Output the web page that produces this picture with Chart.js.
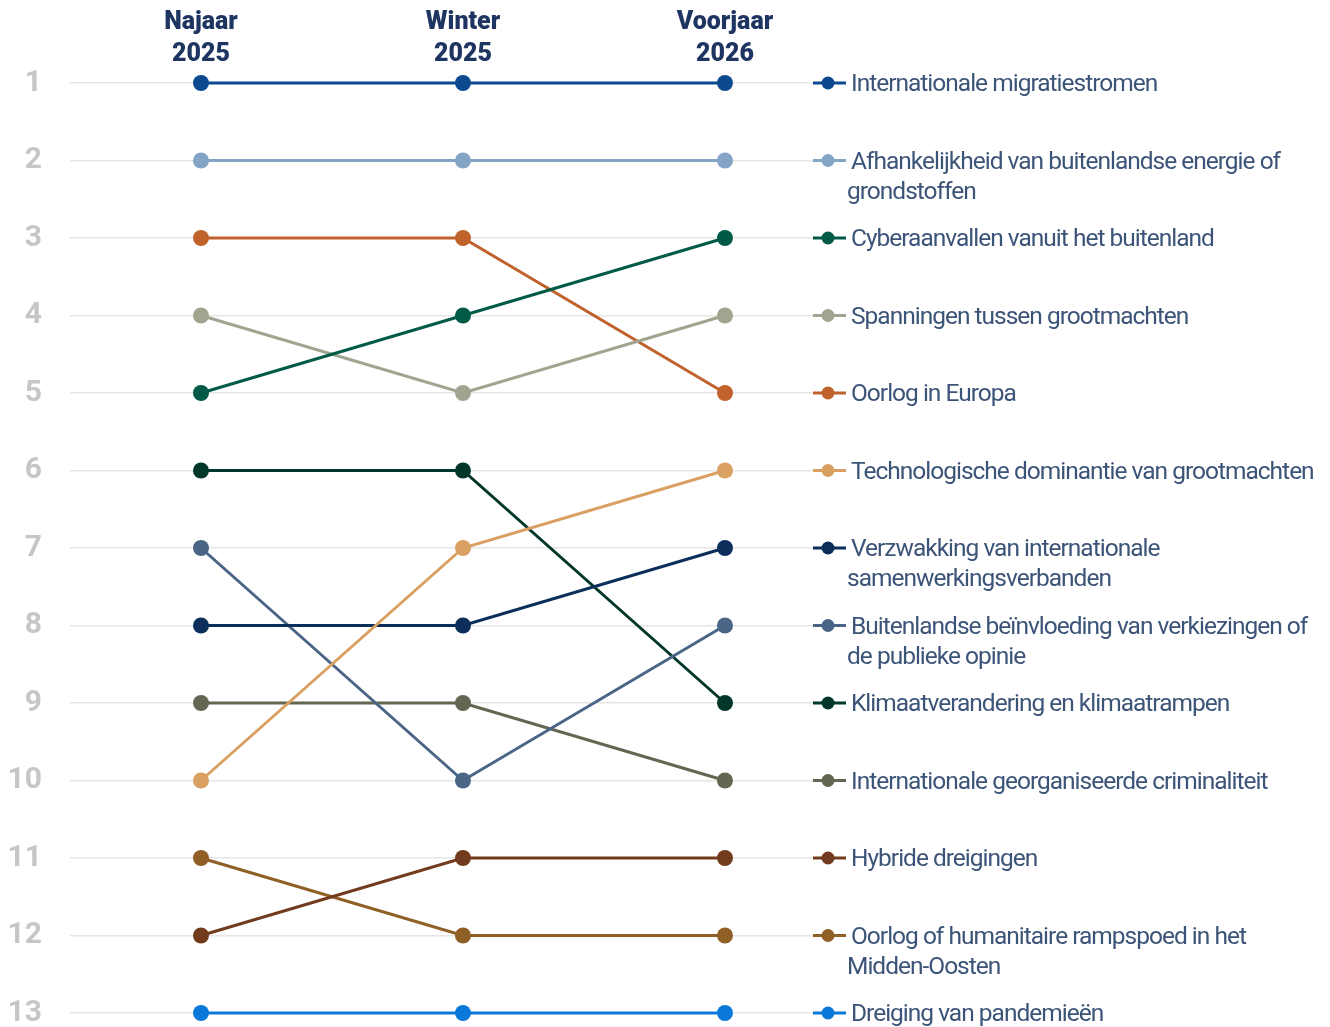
<!DOCTYPE html>
<html>
<head>
<meta charset="utf-8">
<script src="https://cdn.jsdelivr.net/npm/chart.js@4/dist/chart.umd.min.js"></script>
<style>
  html, body { margin: 0; padding: 0; background: #fff; overflow: hidden; }
  canvas { display: block; }
</style>
</head>
<body>
<canvas id="bump" width="1330" height="1027"></canvas>
<script>
// periods shown as column headers
const periods = [['Najaar', '2025'], ['Winter', '2025'], ['Voorjaar', '2026']];

// labels, one entry per line of text
const topics = [
  ['Internationale migratiestromen'],
  ['Afhankelijkheid van buitenlandse energie of', 'grondstoffen'],
  ['Cyberaanvallen vanuit het buitenland'],
  ['Spanningen tussen grootmachten'],
  ['Oorlog in Europa'],
  ['Technologische dominantie van grootmachten'],
  ['Verzwakking van internationale', 'samenwerkingsverbanden'],
  ['Buitenlandse beïnvloeding van verkiezingen of', 'de publieke opinie'],
  ['Klimaatverandering en klimaatrampen'],
  ['Internationale georganiseerde criminaliteit'],
  ['Hybride dreigingen'],
  ['Oorlog of humanitaire rampspoed in het', 'Midden-Oosten'],
  ['Dreiging van pandemieën']
];

// rank per period (Najaar 2025, Winter 2025, Voorjaar 2026)
const ranks = [
  [1, 1, 1],
  [2, 2, 2],
  [5, 4, 3],
  [4, 5, 4],
  [3, 3, 5],
  [10, 7, 6],
  [8, 8, 7],
  [7, 10, 8],
  [6, 6, 9],
  [9, 9, 10],
  [12, 11, 11],
  [11, 12, 12],
  [13, 13, 13]
];

const colors = [
  '#0b4a8f', '#84a4c6', '#005a46', '#a1a58f', '#c0622c', '#d9a062', '#0b2f5a',
  '#4a6586', '#00372a', '#636751', '#723b1d', '#8f5f25', '#0a78d8'
];

const rankTicks = [1, 2, 3, 4, 5, 6, 7, 8, 9, 10, 11, 12, 13];

const datasets = topics.map((t, i) => ({
  label: t.join(' '),
  data: ranks[i].map((r, p) => ({ x: p, y: r })),
  borderColor: colors[i],
  backgroundColor: colors[i],
  borderWidth: 3,
  pointRadius: 8,
  pointHoverRadius: 8,
  pointBorderWidth: 0,
  clip: false,
  order: i
}));

// draws the labels on the right, next to the final rank
const sideLabels = {
  id: 'sideLabels',
  afterDatasetsDraw(chart) {
    const ctx = chart.ctx;
    const yScale = chart.scales.y;
    ctx.save();
    topics.forEach((lines, i) => {
      const last = ranks[i][ranks[i].length - 1];
      const y = yScale.getPixelForValue(last);
      ctx.strokeStyle = colors[i];
      ctx.lineWidth = 3;
      ctx.beginPath();
      ctx.moveTo(813, y);
      ctx.lineTo(846, y);
      ctx.stroke();
      ctx.fillStyle = colors[i];
      ctx.beginPath();
      ctx.arc(828, y, 6.5, 0, Math.PI * 2);
      ctx.fill();

      ctx.fillStyle = '#3c5478';
      ctx.font = '400 24.5px Roboto, "Noto Sans", sans-serif';
      ctx.letterSpacing = '-1px';
      ctx.textBaseline = 'middle';
      ctx.textAlign = 'left';
      lines.forEach((line, k) => {
        ctx.fillText(line, k === 0 ? 851 : 847, y + 2 + k * 30);
      });
    });
    ctx.restore();
  }
};

new Chart(document.getElementById('bump'), {
  type: 'line',
  data: { datasets },
  plugins: [sideLabels],
  options: {
    responsive: false,
    animation: false,
    layout: { padding: { top: 0, left: 0, right: 517, bottom: 14 } },
    plugins: {
      legend: { display: false },
      tooltip: { enabled: false }
    },
    scales: {
      x: {
        type: 'linear',
        position: 'top',
        min: -0.5,
        max: 2.336,
        afterBuildTicks: (scale) => {
          scale.ticks = periods.map((p, i) => ({ value: i }));
        },
        afterFit: (scale) => {
          scale.height = 83;
          scale.paddingLeft = 0;
          scale.paddingRight = 0;
        },
        grid: { display: false, drawTicks: false },
        border: { display: false },
        ticks: {
          padding: 13,
          maxRotation: 0,
          autoSkip: false,
          color: '#1e3461',
          font: { family: 'Roboto, "Noto Sans", sans-serif', size: 25, weight: 900, lineHeight: 1.25 },
          callback: (v) => periods[v]
        }
      },
      y: {
        reverse: true,
        min: 1,
        max: 13,
        afterBuildTicks: (scale) => {
          scale.ticks = rankTicks.map(v => ({ value: v }));
        },
        afterFit: (scale) => {
          scale.width = 70;
          scale.paddingTop = 0;
          scale.paddingBottom = 0;
        },
        grid: { color: '#e6e6e6', lineWidth: 1.5, drawTicks: false },
        border: { display: false },
        ticks: {
          padding: 28,
          color: '#c6c6c6',
          font: { family: 'Roboto, "Noto Sans", sans-serif', size: 30, weight: 'bold' }
        }
      }
    }
  }
});
</script>
</body>
</html>
